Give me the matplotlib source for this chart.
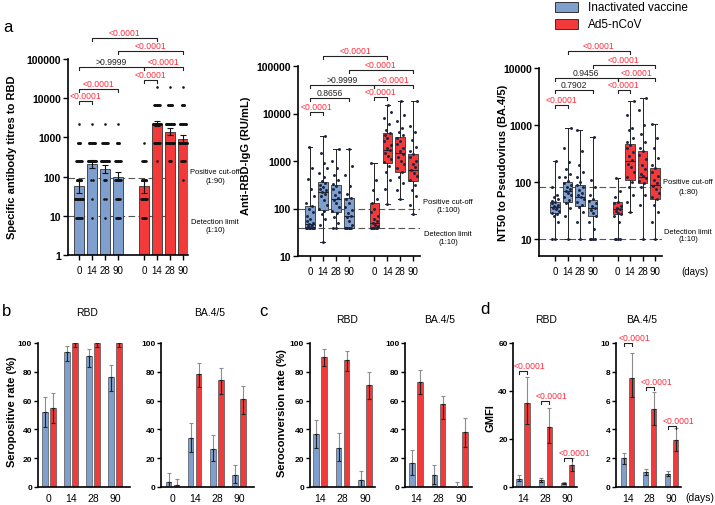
import numpy as np
import matplotlib.pyplot as plt
import matplotlib.transforms as mtransforms
from matplotlib.patches import Rectangle
from matplotlib.ticker import NullLocator

plt.rcParams['font.family'] = ['Liberation Sans', 'DejaVu Sans']

BLUE = '#7f9fcf'
RED = '#f23a3a'
PRED = '#ff2a3a'
W, H = 715, 506

days = ['0', '14', '28', '90']
pos_a = [0, 1, 2, 3, 5, 6, 7, 8]

# ---- a1: specific antibody titres to RBD (GMT, 95% CI, counts per titre level)
levels_a1 = [9, 27, 81, 243, 729, 2187, 6561, 19683]
gmt_a1 = [58, 214, 154, 100, 58, 2230, 1390, 890]
lo_a1 = [39, 170, 126, 80, 39, 1950, 1160, 730]
hi_a1 = [78, 260, 200, 131, 78, 2600, 1750, 1130]
counts_a1 = [
    [10, 15, 8, 10, 5, 1, 0, 0],
    [1, 1, 2, 20, 12, 1, 0, 0],
    [1, 2, 4, 15, 10, 1, 0, 0],
    [6, 6, 10, 10, 5, 1, 0, 0],
    [6, 10, 8, 6, 1, 0, 0, 0],
    [0, 0, 0, 1, 10, 20, 10, 1],
    [0, 0, 0, 4, 15, 20, 8, 1],
    [0, 0, 1, 6, 15, 12, 5, 1],
]

# ---- a2: anti-RBD IgG (RU/mL) box stats and points
med_a2 = [48, 220, 160, 70, 50, 1700, 1500, 650]
q1_a2 = [38, 95, 85, 38, 38, 900, 600, 380]
q3_a2 = [115, 360, 320, 170, 130, 3800, 3200, 1400]
wlo_a2 = [38, 20, 38, 38, 38, 125, 160, 75]
whi_a2 = [2000, 3400, 1800, 1800, 900, 15000, 18000, 18000]
pts_a2 = [
    [38, 38, 38, 38, 38, 38, 38, 40, 42, 45, 48, 50, 55, 60, 70, 85, 100, 115, 130, 180, 260, 420, 700, 2000],
    [20, 45, 60, 75, 90, 100, 120, 150, 180, 200, 220, 240, 260, 290, 320, 350, 380, 450, 550, 700, 900, 1500, 3400],
    [38, 38, 50, 65, 80, 90, 110, 130, 150, 170, 190, 220, 260, 300, 330, 400, 500, 700, 1000, 1800],
    [38, 38, 38, 38, 38, 38, 45, 55, 65, 70, 80, 95, 110, 130, 160, 170, 200, 300, 500, 800, 1800],
    [38, 38, 38, 38, 38, 38, 42, 45, 50, 55, 60, 70, 85, 100, 130, 160, 250, 400, 900],
    [125, 260, 400, 600, 800, 950, 1100, 1300, 1500, 1700, 1900, 2200, 2600, 3000, 3500, 3900, 4500, 6000, 8000, 11000, 15000],
    [160, 250, 350, 450, 600, 700, 850, 1000, 1200, 1400, 1600, 1900, 2300, 2700, 3100, 3500, 4000, 5000, 7000, 9500, 18000],
    [75, 120, 180, 250, 320, 400, 480, 560, 650, 750, 850, 1000, 1200, 1400, 1600, 2000, 2800, 4000, 5500, 18000],
]

# ---- a3: NT50 to BA.4/5 pseudovirus
med_a3 = [36, 68, 55, 35, 33, 230, 120, 90]
q1_a3 = [28, 45, 38, 25, 27, 110, 95, 50]
q3_a3 = [45, 100, 90, 48, 44, 470, 350, 175]
wlo_a3 = [10, 10, 10, 10, 10, 30, 10, 10]
whi_a3 = [230, 870, 800, 620, 115, 2600, 3000, 1050]
pts_a3 = [
    [10, 10, 20, 25, 27, 29, 31, 33, 35, 36, 38, 40, 42, 44, 46, 50, 55, 60, 80, 120, 230],
    [10, 25, 35, 42, 48, 55, 60, 65, 70, 75, 80, 88, 95, 105, 120, 140, 170, 220, 400, 870],
    [10, 20, 30, 36, 40, 45, 50, 55, 60, 65, 72, 80, 90, 100, 120, 150, 200, 350, 800],
    [10, 10, 10, 10, 15, 20, 25, 28, 32, 35, 38, 42, 46, 50, 60, 80, 110, 620],
    [10, 10, 10, 10, 20, 25, 27, 29, 31, 33, 35, 38, 42, 45, 55, 70, 115],
    [30, 45, 60, 80, 100, 120, 150, 180, 210, 240, 280, 330, 390, 450, 500, 600, 800, 900, 1500, 2600],
    [10, 40, 60, 80, 95, 105, 115, 125, 140, 170, 200, 250, 300, 350, 400, 500, 700, 1000, 1800, 3000],
    [10, 20, 30, 40, 50, 55, 65, 75, 85, 95, 110, 125, 150, 175, 200, 260, 400, 600, 1050],
]

# ---- b: seropositive rate (%)
b_rbd_blue = [52.4, 93.7, 90.9, 76.2]
b_rbd_blue_lo = [42.0, 87.4, 83.2, 66.4]
b_rbd_blue_hi = [62.7, 97.9, 95.6, 84.4]
b_rbd_red = [54.8, 100, 100, 100]
b_rbd_red_lo = [44.7, 97.0, 97.0, 97.0]
b_rbd_red_hi = [65.0, 100, 100, 100]
b_ba_blue = [3.7, 33.9, 26.6, 8.3]
b_ba_blue_lo = [1.0, 24.3, 17.9, 3.0]
b_ba_blue_hi = [9.9, 44.3, 36.0, 15.6]
b_ba_red = [1.1, 78.2, 74.1, 60.8]
b_ba_red_lo = [0.1, 69.5, 64.4, 50.7]
b_ba_red_hi = [5.7, 86.0, 82.3, 70.4]

# ---- c: seroconversion rate (%)
days_c = ['14', '28', '90']
c_rbd_blue = [36.5, 27.0, 4.7]
c_rbd_blue_lo = [27.4, 18.1, 0.8]
c_rbd_blue_hi = [46.5, 37.2, 10.9]
c_rbd_red = [90.2, 88.4, 70.9]
c_rbd_red_lo = [84.2, 80.5, 60.9]
c_rbd_red_hi = [95.8, 94.2, 79.8]
c_ba_blue = [16.8, 8.0, 0.0]
c_ba_blue_lo = [8.0, 2.3, 0.0]
c_ba_blue_hi = [26.0, 15.0, 3.4]
c_ba_red = [72.9, 57.7, 38.2]
c_ba_red_lo = [64.4, 47.4, 27.6]
c_ba_red_hi = [81.4, 63.0, 47.8]

# ---- d: GMFI
d_rbd_blue = [3.5, 2.8, 1.7]
d_rbd_blue_lo = [2.4, 2.0, 1.3]
d_rbd_blue_hi = [4.9, 3.9, 2.1]
d_rbd_red = [34.9, 25.0, 9.1]
d_rbd_red_lo = [26.1, 18.4, 6.6]
d_rbd_red_hi = [46.0, 33.0, 11.9]
d_ba_blue = [2.0, 1.05, 0.93]
d_ba_blue_lo = [1.63, 0.81, 0.77]
d_ba_blue_hi = [2.33, 1.28, 1.09]
d_ba_red = [7.56, 5.4, 3.26]
d_ba_red_lo = [6.28, 4.3, 2.49]
d_ba_red_hi = [9.3, 6.6, 4.07]

fig = plt.figure(figsize=(W / 100, H / 100), dpi=100)


def add_ax(x0, y0, x1, y1):
    ax = fig.add_axes([x0 / W, 1 - y1 / H, (x1 - x0) / W, (y1 - y0) / H])
    ax.spines['top'].set_visible(False)
    ax.spines['right'].set_visible(False)
    ax.spines['left'].set_linewidth(1.2)
    ax.spines['bottom'].set_linewidth(1.2)
    return ax


def ftext(x, y, s, **kw):
    fig.text(x / W, 1 - y / H, s, **kw)


def bracket(ax, x1, x2, yf, txt, col, drop):
    tr = mtransforms.blended_transform_factory(ax.transData, ax.transAxes)
    ax.plot([x1, x1, x2, x2], [yf - drop, yf, yf, yf - drop], color='#222',
            lw=0.8, transform=tr, clip_on=False)
    ax.annotate(txt, xy=((x1 + x2) / 2, yf), xycoords=tr, xytext=(0, 0.8),
                textcoords='offset points', ha='center', va='bottom',
                fontsize=6.2, color=col, annotation_clip=False)


def style_a(ax, ylim, yticks, xl):
    ax.set_yscale('log')
    ax.set_ylim(*ylim)
    ax.set_xlim(*xl)
    ax.set_yticks(yticks)
    ax.set_yticklabels([str(t) for t in yticks], fontweight='bold', fontsize=7.5)
    ax.yaxis.set_minor_locator(NullLocator())
    ax.set_xticks(pos_a)
    ax.set_xticklabels(days * 2, fontsize=7)
    ax.tick_params(length=3.5, width=1, pad=1.5)
    ax.tick_params(axis='x', pad=3.5)


cols8 = [BLUE] * 4 + [RED] * 4
jit = np.array([0, -0.22, 0.2, -0.1, 0.12, -0.28, 0.28, 0.05, -0.15, 0.18, -0.05, 0.25, -0.25])
dash = (0, (6, 3))

# ================= a1
ax = add_ax(68, 60, 188, 256)
ax.bar(pos_a, gmt_a1, width=0.75, color=cols8, edgecolor='#333', lw=0.6, log=True, zorder=2)
for i, p in enumerate(pos_a):
    for lev, c in zip(levels_a1, counts_a1[i]):
        if c == 0:
            continue
        half = min(0.022 * c, 0.32) if c > 1 else 0
        xs = np.linspace(p - half, p + half, c)
        ax.scatter(xs, [lev] * c, s=3.5, color='#111', zorder=3, lw=0)
    ax.errorbar(p, gmt_a1[i], yerr=[[gmt_a1[i] - lo_a1[i]], [hi_a1[i] - gmt_a1[i]]],
                color='#111', lw=0.8, capsize=2.2, capthick=0.8, zorder=4)
ax.axhline(90, color='#555', lw=0.8, ls=dash, zorder=1)
ax.axhline(10, color='#555', lw=0.8, ls=dash, zorder=1)
style_a(ax, (1, 100000), [1, 10, 100, 1000, 10000, 100000], (-0.85, 8.38))
d = 3 / 196
for x1, x2, yf, t, c in [(1, 6, 1.107, '<0.0001', PRED), (3, 8, 1.041, '<0.0001', PRED),
                         (0, 5, 0.959, '>0.9999', '#222'), (5, 8, 0.959, '<0.0001', PRED),
                         (5, 6, 0.893, '<0.0001', PRED), (0, 3, 0.847, '<0.0001', PRED),
                         (0, 1, 0.786, '<0.0001', PRED)]:
    bracket(ax, x1, x2, yf, t, c, d)
ftext(12, 157, 'Specific antibody titres to RBD', rotation=90, ha='center', va='center',
      fontsize=8, fontweight='bold')
ftext(215, 172, 'Positive cut-off', ha='center', va='center', fontsize=5.4)
ftext(215, 182, '(1:90)', ha='center', va='center', fontsize=5.4)
ftext(215, 223, 'Detection limit', ha='center', va='center', fontsize=5.4)
ftext(215, 230, '(1:10)', ha='center', va='center', fontsize=5.4)
ftext(8, 28, 'a', ha='center', va='center', fontsize=12)


def box_panel(ax, med, q1, q3, wlo, whi, pts):
    stats = [dict(med=med[i], q1=q1[i], q3=q3[i], whislo=wlo[i], whishi=whi[i])
             for i in range(8)]
    bp = ax.bxp(stats, positions=pos_a, widths=0.75, patch_artist=True, showfliers=False,
                boxprops=dict(lw=0.6, edgecolor='#333'), medianprops=dict(color='#222', lw=0.8),
                whiskerprops=dict(lw=0.7, color='#222'), capprops=dict(lw=0.7, color='#222'),
                manage_ticks=False)
    for patch, c in zip(bp['boxes'], cols8):
        patch.set_facecolor(c)
    for i, p in enumerate(pos_a):
        v = pts[i]
        xs = p + jit[np.arange(len(v)) % len(jit)]
        ax.scatter(xs, v, s=4.5, color='#1b2440', zorder=4, lw=0)


# ================= a2
ax = add_ax(298, 67, 420, 257)
box_panel(ax, med_a2, q1_a2, q3_a2, wlo_a2, whi_a2, pts_a2)
ax.axhline(100, color='#555', lw=0.8, ls=dash, zorder=1)
ax.axhline(38, color='#555', lw=0.8, ls=dash, zorder=1)
style_a(ax, (10, 100000), [10, 100, 1000, 10000, 100000], (-0.93, 8.53))
d = 3 / 190
for x1, x2, yf, t, c in [(1, 6, 1.053, '<0.0001', PRED), (3, 8, 0.979, '<0.0001', PRED),
                         (0, 5, 0.9, '>0.9999', '#222'), (5, 8, 0.9, '<0.0001', PRED),
                         (0, 3, 0.832, '0.8656', '#222'), (5, 6, 0.837, '<0.0001', PRED),
                         (0, 1, 0.758, '<0.0001', PRED)]:
    bracket(ax, x1, x2, yf, t, c, d)
ftext(246, 156, 'Anti-RBD-IgG (RU/mL)', rotation=90, ha='center', va='center',
      fontsize=8, fontweight='bold')
ftext(448, 203, 'Positive cut-off', ha='center', va='center', fontsize=5.4)
ftext(448, 211, '(1:100)', ha='center', va='center', fontsize=5.4)
ftext(448, 235, 'Detection limit', ha='center', va='center', fontsize=5.4)
ftext(448, 242, '(1:10)', ha='center', va='center', fontsize=5.4)

# ================= a3
ax = add_ax(539, 69, 662, 257)
box_panel(ax, med_a3, q1_a3, q3_a3, wlo_a3, whi_a3, pts_a3)
ax.axhline(80, color='#555', lw=0.8, ls=dash, zorder=1)
ax.axhline(10, color='#555', lw=0.8, ls=dash, zorder=1)
style_a(ax, (5, 10000), [10, 100, 1000, 10000], (-1.28, 8.56))
d = 3 / 188
for x1, x2, yf, t, c in [(1, 6, 1.09, '<0.0001', PRED), (3, 8, 1.016, '<0.0001', PRED),
                         (0, 5, 0.947, '0.9456', '#222'), (5, 8, 0.947, '<0.0001', PRED),
                         (0, 3, 0.883, '0.7902', '#222'), (5, 6, 0.883, '<0.0001', PRED),
                         (0, 1, 0.803, '<0.0001', PRED)]:
    bracket(ax, x1, x2, yf, t, c, d)
ftext(503, 163, 'NT50 to Pseudovirus (BA.4/5)', rotation=90, ha='center', va='center',
      fontsize=8, fontweight='bold')
ftext(688, 183, 'Positive cut-off', ha='center', va='center', fontsize=5.4)
ftext(688, 192, '(1:80)', ha='center', va='center', fontsize=5.4)
ftext(688, 233, 'Detection limit', ha='center', va='center', fontsize=5.4)
ftext(688, 240, '(1:10)', ha='center', va='center', fontsize=5.4)
ftext(695, 272, '(days)', ha='center', va='center', fontsize=7)

# legend
for yy, c, lab in [(3, BLUE, 'Inactivated vaccine'), (20, RED, 'Ad5-nCoV')]:
    fig.patches.append(Rectangle((555 / W, 1 - (yy + 10) / H), 23 / W, 10 / H,
                                 transform=fig.transFigure, facecolor=c,
                                 edgecolor='#333', lw=0.7))
    ftext(588, yy + 5, lab, ha='left', va='center', fontsize=8.5)


# ================= b, c, d grouped bars
def group_bars(ax, labels, bv, blo, bhi, rv, rlo, rhi, xl, ylim, yticks):
    x = np.arange(len(labels))
    off, w = 0.18, 0.24
    for xs, v, lo, hi, c in [(x - off, bv, blo, bhi, BLUE), (x + off, rv, rlo, rhi, RED)]:
        v, lo, hi = np.array(v), np.array(lo), np.array(hi)
        ax.bar(xs, v, width=w, color=c, edgecolor='#555', lw=0.5, zorder=2)
        ax.errorbar(xs, v, yerr=[np.zeros_like(v), hi - v], fmt='none', ecolor='#8c8c8c',
                    elinewidth=0.8, capsize=1.6, capthick=0.8, zorder=3)
        ax.errorbar(xs, v, yerr=[v - lo, np.zeros_like(v)], fmt='none', ecolor='#222',
                    elinewidth=0.8, capsize=1.6, capthick=0.8, zorder=3)
    ax.set_xlim(*xl)
    ax.set_ylim(*ylim)
    ax.set_yticks(yticks)
    ax.set_yticklabels([str(t) for t in yticks], fontweight='bold', fontsize=6)
    ax.set_xticks(x)
    ax.set_xticklabels(labels, fontsize=7.5)
    ax.tick_params(axis='y', length=3, width=1, pad=1)
    ax.tick_params(axis='x', length=0, pad=4)
    return x


pct = [0, 20, 40, 60, 80, 100]
ax = add_ax(37.7, 344, 130, 488)
group_bars(ax, days, b_rbd_blue, b_rbd_blue_lo, b_rbd_blue_hi, b_rbd_red, b_rbd_red_lo,
           b_rbd_red_hi, (-0.51, 3.68), (0, 100), pct)
ax = add_ax(161, 344, 254, 488)
group_bars(ax, days, b_ba_blue, b_ba_blue_lo, b_ba_blue_hi, b_ba_red, b_ba_red_lo,
           b_ba_red_hi, (-0.52, 3.67), (0, 100), pct)
ftext(7, 311, 'b', ha='center', va='center', fontsize=12)
ftext(87, 313, 'RBD', ha='center', va='center', fontsize=7.5)
ftext(210, 313, 'BA.4/5', ha='center', va='center', fontsize=7.5)
ftext(12, 412, 'Seropositive rate (%)', rotation=90, ha='center', va='center',
      fontsize=8, fontweight='bold')

ax = add_ax(309.5, 344, 375, 488)
group_bars(ax, days_c, c_rbd_blue, c_rbd_blue_lo, c_rbd_blue_hi, c_rbd_red, c_rbd_red_lo,
           c_rbd_red_hi, (-0.47, 2.44), (0, 100), pct)
ax = add_ax(405, 344, 471.7, 488)
group_bars(ax, days_c, c_ba_blue, c_ba_blue_lo, c_ba_blue_hi, c_ba_red, c_ba_red_lo,
           c_ba_red_hi, (-0.49, 2.48), (0, 100), pct)
ftext(263, 311, 'c', ha='center', va='center', fontsize=12)
ftext(347, 320, 'RBD', ha='center', va='center', fontsize=7.5)
ftext(440, 320, 'BA.4/5', ha='center', va='center', fontsize=7.5)
ftext(282, 413, 'Seroconversion rate (%)', rotation=90, ha='center', va='center',
      fontsize=8, fontweight='bold')


def d_brackets(ax, x, ys, drop):
    for xi, yb in zip(x, ys):
        ax.plot([xi - 0.18, xi - 0.18, xi + 0.18, xi + 0.18], [yb - drop, yb, yb, yb - drop],
                color='#222', lw=0.8, zorder=4)
        ax.annotate('<0.0001', xy=(xi + 0.3, yb), xytext=(0, 0.8), textcoords='offset points',
                    ha='center', va='bottom', fontsize=6.2, color=PRED, annotation_clip=False)


ax = add_ax(513.3, 344, 576.7, 488)
x = group_bars(ax, days_c, d_rbd_blue, d_rbd_blue_lo, d_rbd_blue_hi, d_rbd_red, d_rbd_red_lo,
               d_rbd_red_hi, (-0.43, 2.41), (0, 60), [0, 20, 40, 60])
d_brackets(ax, x, [48.4, 35.8, 12.1], 1.3)
ax = add_ax(615.7, 344, 681, 488)
x = group_bars(ax, days_c, d_ba_blue, d_ba_blue_lo, d_ba_blue_hi, d_ba_red, d_ba_red_lo,
               d_ba_red_hi, (-0.54, 2.43), (0, 10), [0, 2, 4, 6, 8, 10])
d_brackets(ax, x, [10.0, 6.93, 4.26], 0.22)
ftext(485, 310, 'd', ha='center', va='center', fontsize=12)
ftext(546, 320, 'RBD', ha='center', va='center', fontsize=7.5)
ftext(642, 320, 'BA.4/5', ha='center', va='center', fontsize=7.5)
ftext(491, 418, 'GMFI', rotation=90, ha='center', va='center', fontsize=8, fontweight='bold')
ftext(700, 498, '(days)', ha='center', va='center', fontsize=7.5)

fig.savefig('out.png', dpi=100)
